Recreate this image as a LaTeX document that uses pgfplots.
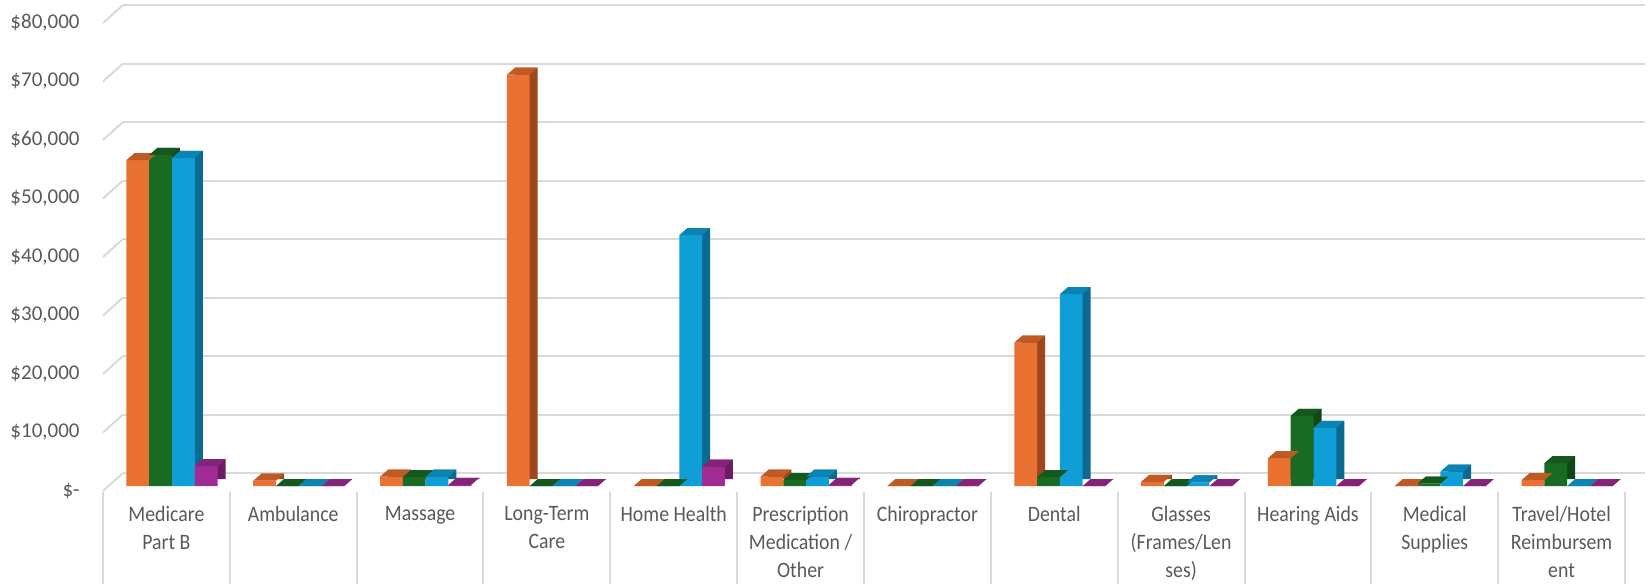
\documentclass[border=0pt]{standalone}
\usepackage{fontspec}
\setmainfont{Carlito}
\newfontfamily\catfont[FakeStretch=0.9]{Carlito}
\usepackage{pgfplots}
\pgfplotsset{compat=1.18}
\usepackage{pgfplotstable}

\definecolor{oF}{HTML}{E97132}\definecolor{oT}{HTML}{BF5A24}\definecolor{oS}{HTML}{9E471C}
\definecolor{gF}{HTML}{196B24}\definecolor{gT}{HTML}{14581D}\definecolor{gS}{HTML}{0F4716}
\definecolor{bF}{HTML}{0F9ED5}\definecolor{bT}{HTML}{0C84B3}\definecolor{bS}{HTML}{0A6A8F}
\definecolor{pF}{HTML}{A02B93}\definecolor{pT}{HTML}{852379}\definecolor{pS}{HTML}{6C1C63}
\definecolor{gridc}{HTML}{D9D9D9}
\definecolor{labgray}{HTML}{595959}

\pgfdeclareplotmark{topface}{%
  \pgfpathmoveto{\pgfqpoint{-5.7pt}{0pt}}%
  \pgfpathlineto{\pgfqpoint{-1.7pt}{3.5pt}}%
  \pgfpathlineto{\pgfqpoint{9.7pt}{3.5pt}}%
  \pgfpathlineto{\pgfqpoint{5.7pt}{0pt}}%
  \pgfpathclose\pgfusepathqfill}

\pgfplotstableread{
x o g b p
0 55700 56600 56100 3400
1 900 0 0 0
2 1600 1500 1600 200
3 70300 0 0 0
4 0 0 42900 3300
5 1600 1000 1600 200
6 0 0 0 0
7 24500 1500 32800 0
8 700 0 600 0
9 4750 12000 9950 0
10 0 400 2450 0
11 1000 3900 0 0
}\data

\begin{document}
\begin{tikzpicture}
\begin{axis}[
  scale only axis, width=761pt, height=234pt,
  xmin=-0.5, xmax=11.5, ymin=0, ymax=80000,
  clip=false,
  axis line style={draw=none}, tick style={draw=none},
  xtick={0,1,2,3,4,5,6,7,8,9,10,11},
  xticklabels={{Medicare\\Part B},{Ambulance},{Massage},{Long-Term\\Care},{Home Health},{Prescription\\Medication /\\Other},{Chiropractor},{Dental},{Glasses\\(Frames/Len\\ses)},{Hearing Aids},{Medical\\Supplies},{Travel/Hotel\\Reimbursem\\ent}},
  ytick={0,10000,20000,30000,40000,50000,60000,70000,80000},
  yticklabels={{\$-},{\$10,000},{\$20,000},{\$30,000},{\$40,000},{\$50,000},{\$60,000},{\$70,000},{\$80,000}},
  scaled y ticks=false,
  yticklabel style={anchor=east, inner sep=0pt, xshift=-14.3pt, yshift=-2.5pt, font=\fontsize{10.5pt}{12pt}\selectfont, text=labgray},
  xticklabel style={anchor=north, inner sep=0pt, yshift=-10pt, xshift=-2.8pt, align=center, font=\catfont\fontsize{11pt}{14pt}\selectfont, text=labgray},
]
\pgfplotsinvokeforeach{0,10000,20000,30000,40000,50000,60000,70000,80000}{
  \draw[gridc, line width=1pt] ([shift={(7.2pt,6.5pt)}]axis cs:-0.5,#1) -- ([shift={(7.2pt,6.5pt)}]axis cs:11.5,#1);
  \draw[gridc, line width=1pt] ([shift={(-2.8pt,-2.5pt)}]axis cs:-0.5,#1) -- ([shift={(7.2pt,6.5pt)}]axis cs:-0.5,#1);
}
\pgfplotsinvokeforeach{-0.5,0.5,1.5,2.5,3.5,4.5,5.5,6.5,7.5,8.5,9.5,10.5,11.5}{
  \draw[gridc, line width=1pt] ([shift={(-2.8pt,-3pt)}]axis cs:#1,0) -- ([shift={(-2.8pt,-49pt)}]axis cs:#1,0);
}
\coordinate (ll) at (axis cs:-0.5,0);
\coordinate (ur) at (axis cs:11.5,80000);

% series 1 orange
\addplot[ybar, bar width=11.4pt, bar shift=-17.1pt, draw=none, fill=oS, xshift=4pt, yshift=3.5pt] table[x=x,y=o]{\data};
\addplot[ybar, bar width=11.4pt, bar shift=-17.1pt, draw=none, fill=oF] table[x=x,y=o]{\data};
\addplot[only marks, mark=topface, color=oT, mark options={xshift=-17.1pt}] table[x=x,y=o]{\data};
% series 2 green
\addplot[ybar, bar width=11.4pt, bar shift=-5.7pt, draw=none, fill=gS, xshift=4pt, yshift=3.5pt] table[x=x,y=g]{\data};
\addplot[ybar, bar width=11.4pt, bar shift=-5.7pt, draw=none, fill=gF] table[x=x,y=g]{\data};
\addplot[only marks, mark=topface, color=gT, mark options={xshift=-5.7pt}] table[x=x,y=g]{\data};
% series 3 blue
\addplot[ybar, bar width=11.4pt, bar shift=5.7pt, draw=none, fill=bS, xshift=4pt, yshift=3.5pt] table[x=x,y=b]{\data};
\addplot[ybar, bar width=11.4pt, bar shift=5.7pt, draw=none, fill=bF] table[x=x,y=b]{\data};
\addplot[only marks, mark=topface, color=bT, mark options={xshift=5.7pt}] table[x=x,y=b]{\data};
% series 4 purple
\addplot[ybar, bar width=11.4pt, bar shift=17.1pt, draw=none, fill=pS, xshift=4pt, yshift=3.5pt] table[x=x,y=p]{\data};
\addplot[ybar, bar width=11.4pt, bar shift=17.1pt, draw=none, fill=pF] table[x=x,y=p]{\data};
\addplot[only marks, mark=topface, color=pT, mark options={xshift=17.1pt}] table[x=x,y=p]{\data};
\end{axis}
\pgfresetboundingbox
\path[use as bounding box] ([shift={(-54.3pt,-49pt)}]ll) rectangle ([shift={(10.2pt,9pt)}]ur);
\end{tikzpicture}
\end{document}
